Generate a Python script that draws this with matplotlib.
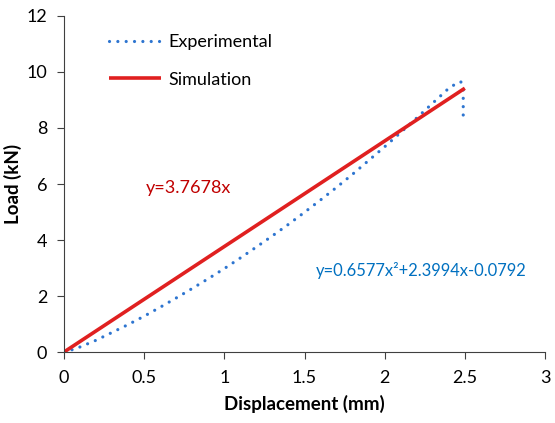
import matplotlib.pyplot as plt
from matplotlib.ticker import FuncFormatter

plt.rcParams['font.family'] = ['Lato', 'DejaVu Sans']

# Experimental load-displacement curve
exp_disp = [0, 0.05, 0.1, 0.2, 0.3, 0.4, 0.5, 0.6, 0.7, 0.8, 0.9, 1.0,
            1.1, 1.2, 1.3, 1.4, 1.5, 1.6, 1.7, 1.8, 1.9, 2.0, 2.1, 2.2,
            2.3, 2.4, 2.45, 2.475, 2.49, 2.49, 2.49]
exp_load = [0, 0.08, 0.18, 0.42, 0.7, 0.98, 1.28, 1.6, 1.93, 2.27, 2.62, 2.98,
            3.36, 3.75, 4.15, 4.56, 4.99, 5.43, 5.88, 6.35, 6.84, 7.33, 7.84, 8.36,
            8.89, 9.42, 9.6, 9.65, 9.4, 8.9, 8.35]

# Simulation: linear, y = 3.7678x
sim_disp = [0, 2.5]
sim_load = [0, 9.42]

exp_eq = "y=0.6577x\u00b2+2.3994x-0.0792"
sim_eq = "y=3.7678x"

fig = plt.figure(figsize=(5.55, 4.23), dpi=100)
ax = fig.add_axes([0.1153, 0.1678, 0.8667, 0.7944])

ax.plot(exp_disp, exp_load, color="#2E75D0", linestyle=(0, (0.01, 2.6)),
        linewidth=2.3, dash_capstyle="round", label="Experimental")
ax.plot(sim_disp, sim_load, color="#E02020", linewidth=2.6,
        solid_capstyle="butt", label="Simulation")

ax.text(0.51, 5.85, sim_eq, color="#C00000", fontsize=13, va="center")
ax.text(1.57, 2.9, exp_eq, color="#0070C0", fontsize=11.9, va="center")

ax.set_xlim(0, 3)
ax.set_ylim(0, 12)
ax.set_xticks([0, 0.5, 1, 1.5, 2, 2.5, 3])
ax.set_yticks(range(0, 13, 2))
ax.xaxis.set_major_formatter(FuncFormatter(lambda v, p: f"{v:g}"))
ax.tick_params(labelsize=13, direction="out", length=5, width=0.8,
               color="#404040", pad=7)
ax.tick_params(axis="x", pad=8)
for s in ["top", "right"]:
    ax.spines[s].set_visible(False)
for s in ["left", "bottom"]:
    ax.spines[s].set_color("#404040")
    ax.spines[s].set_linewidth(0.8)

ax.set_xlabel("Displacement (mm)", fontsize=13.5, fontweight="bold", labelpad=6)
ax.set_ylabel("Load (kN)", fontsize=13.5, fontweight="bold", labelpad=3)

ax.legend(loc="upper left", bbox_to_anchor=(0.06, 0.995), frameon=False,
          fontsize=13, handlelength=2.9, handletextpad=0.4, labelspacing=1.2)

fig.savefig("out.png", dpi=100)
